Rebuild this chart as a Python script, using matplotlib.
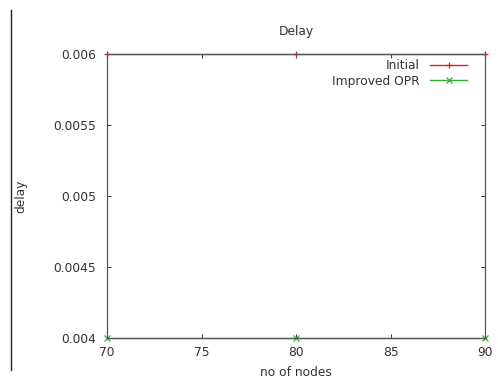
import matplotlib
matplotlib.use("Agg")
import matplotlib.pyplot as plt
from matplotlib.lines import Line2D

nodes = [70, 80, 90]
initial = [0.006, 0.006, 0.006]
improved = [0.004, 0.004, 0.004]
xticks = [70, 75, 80, 85, 90]
yticks = [0.004, 0.0045, 0.005, 0.0055, 0.006]
ytick_labels = ["0.004", "0.0045", "0.005", "0.0055", "0.006"]

plt.rcParams['font.family'] = ['DejaVu Sans']
fs = 8.8
tc = '#333333'

fig = plt.figure(figsize=(4.98, 3.81), dpi=100)
W, H = 498, 381
L, R, T, B = 107, 485, 54, 338
ax = fig.add_axes([L / W, 1 - B / H, (R - L) / W, (B - T) / H])

ax.plot(nodes, initial, color='#e02020', lw=1.0, marker='+', ms=5, mew=0.9,
        label='Initial', clip_on=False, zorder=2)
ax.plot(nodes, improved, color='#30b030', lw=1.0, marker='x', ms=4, mew=0.9,
        label='Improved OPR', clip_on=False, zorder=2)

ax.set_xlim(70, 90)
ax.set_ylim(0.004, 0.006)
ax.set_xticks(xticks)
ax.set_xticklabels([str(v) for v in xticks])
ax.set_yticks(yticks)
ax.set_yticklabels(ytick_labels)

for s in ax.spines.values():
    s.set_color('#555555')
    s.set_linewidth(0.9)
ax.tick_params(direction='in', length=3, width=0.7, color='#333333',
               labelsize=fs, labelcolor=tc, top=True, right=True)
ax.tick_params(axis='y', pad=8)
ax.tick_params(axis='x', pad=6)

ax.set_title('Delay', fontsize=fs, color=tc, pad=14)
ax.set_xlabel('no of nodes', fontsize=fs, color=tc, va='center')
ax.xaxis.set_label_coords((296 - L) / (R - L), (B - 372) / (B - T))
ax.set_ylabel('delay', fontsize=fs, color=tc, va='center')
ax.yaxis.set_label_coords((21 - L) / (R - L), (B - 196) / (B - T))

leg = ax.legend(loc='upper right', bbox_to_anchor=((467 - L) / (R - L), (B - 59) / (B - T)),
                frameon=False, markerfirst=False, fontsize=fs, handlelength=3.0,
                handletextpad=0.9, labelspacing=0.22, borderpad=0, borderaxespad=0)
for t in leg.get_texts():
    t.set_color(tc)

fig.add_artist(Line2D([11 / W, 11 / W], [1 - 10 / H, 1 - 370 / H], color='#222222', lw=1.0))

fig.savefig('out.png', dpi=100)
